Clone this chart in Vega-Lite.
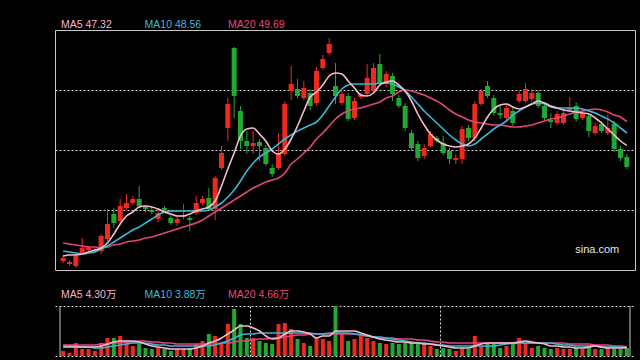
{
"$schema": "https://vega.github.io/schema/vega-lite/v6.json",
"background": "black",
"padding": {"left": 54, "top": 19, "right": 6, "bottom": 5},
"autosize": {"type": "pad"},
"spacing": 36,
"bounds": "flush",
"config": {"view": {"stroke": null}, "font": "Liberation Sans", "text": {"font": "Liberation Sans, Noto Sans CJK SC"}},
"datasets": {"k": [
{"i":0,"o":35.76,"h":36.36,"l":35.56,"c":36.06,"v":2.5,"m5":36.26,"m10":36.76,"m20":37.56,"vm5":4.5,"vm10":5,"vm20":5.5},
{"i":1,"o":35.46,"h":35.86,"l":35.26,"c":35.66,"v":1.6,"m5":36.36,"m10":36.66,"m20":37.46,"vm5":4.5,"vm10":5,"vm20":5.5},
{"i":2,"o":35.26,"h":36.46,"l":35.06,"c":36.26,"v":6.5,"m5":36.36,"m10":36.56,"m20":37.36,"vm5":4.5,"vm10":5,"vm20":5.5},
{"i":3,"o":36.56,"h":38.06,"l":36.36,"c":37.06,"v":3.5,"m5":36.46,"m10":36.46,"m20":37.26,"vm5":4.5,"vm10":4.5,"vm20":5.5},
{"i":4,"o":36.86,"h":37.26,"l":36.66,"c":37.06,"v":3.5,"m5":36.66,"m10":36.56,"m20":37.16,"vm5":4.5,"vm10":4.5,"vm20":5.5},
{"i":5,"o":36.66,"h":37.06,"l":36.56,"c":36.86,"v":2.5,"m5":36.86,"m10":36.66,"m20":37.16,"vm5":4.5,"vm10":4,"vm20":5.5},
{"i":6,"o":36.76,"h":38.46,"l":36.46,"c":38.26,"v":6.5,"m5":37.06,"m10":36.96,"m20":37.06,"vm5":5,"vm10":4,"vm20":6},
{"i":7,"o":37.96,"h":40.96,"l":37.76,"c":39.46,"v":9,"m5":37.56,"m10":37.26,"m20":37.16,"vm5":6,"vm10":4.5,"vm20":6},
{"i":8,"o":40.46,"h":41.06,"l":39.06,"c":39.56,"v":9,"m5":38.46,"m10":37.66,"m20":37.36,"vm5":7,"vm10":5,"vm20":6.5},
{"i":9,"o":39.76,"h":41.96,"l":39.56,"c":41.26,"v":10,"m5":39.46,"m10":38.06,"m20":37.46,"vm5":7.5,"vm10":5.5,"vm20":6.5},
{"i":10,"o":41.06,"h":42.46,"l":40.86,"c":41.56,"v":7.5,"m5":40.26,"m10":38.46,"m20":37.66,"vm5":7.5,"vm10":6,"vm20":7},
{"i":11,"o":41.56,"h":42.26,"l":41.36,"c":41.96,"v":5,"m5":40.66,"m10":38.86,"m20":37.76,"vm5":7.5,"vm10":6.5,"vm20":7},
{"i":12,"o":41.96,"h":43.26,"l":41.06,"c":41.26,"v":6,"m5":41.16,"m10":39.16,"m20":37.86,"vm5":7,"vm10":6.5,"vm20":7.5},
{"i":13,"o":41.16,"h":41.36,"l":40.66,"c":40.96,"v":4,"m5":41.26,"m10":39.56,"m20":38.06,"vm5":6,"vm10":6.5,"vm20":7.5},
{"i":14,"o":40.86,"h":41.16,"l":40.46,"c":40.66,"v":3.5,"m5":41.16,"m10":39.96,"m20":38.16,"vm5":5,"vm10":6,"vm20":7},
{"i":15,"o":39.96,"h":40.86,"l":39.66,"c":40.56,"v":4,"m5":40.96,"m10":40.36,"m20":38.36,"vm5":4.5,"vm10":5.5,"vm20":7},
{"i":16,"o":41.06,"h":41.26,"l":40.66,"c":40.86,"v":3.5,"m5":40.66,"m10":40.66,"m20":38.56,"vm5":4,"vm10":5.5,"vm20":6.5},
{"i":17,"o":40.06,"h":40.36,"l":39.36,"c":39.56,"v":2.5,"m5":40.46,"m10":40.76,"m20":38.76,"vm5":3.5,"vm10":5,"vm20":6.5},
{"i":18,"o":39.56,"h":40.26,"l":39.26,"c":39.96,"v":3.5,"m5":40.26,"m10":40.76,"m20":38.96,"vm5":3.5,"vm10":5,"vm20":6},
{"i":19,"o":40.16,"h":41.46,"l":39.96,"c":40.36,"v":3.5,"m5":40.26,"m10":40.76,"m20":39.16,"vm5":3.5,"vm10":5,"vm20":6},
{"i":20,"o":40.06,"h":40.26,"l":38.76,"c":39.86,"v":4,"m5":40.46,"m10":40.76,"m20":39.36,"vm5":3.5,"vm10":5,"vm20":6},
{"i":21,"o":40.56,"h":42.26,"l":40.36,"c":41.56,"v":6,"m5":40.76,"m10":40.76,"m20":39.56,"vm5":4,"vm10":5,"vm20":6},
{"i":22,"o":41.56,"h":42.26,"l":41.36,"c":41.96,"v":7.5,"m5":40.96,"m10":40.76,"m20":39.86,"vm5":5,"vm10":5,"vm20":6},
{"i":23,"o":42.06,"h":43.06,"l":40.76,"c":40.96,"v":11,"m5":41.16,"m10":40.86,"m20":40.26,"vm5":6.5,"vm10":5,"vm20":6},
{"i":24,"o":40.96,"h":44.26,"l":39.86,"c":44.06,"v":10,"m5":41.76,"m10":41.16,"m20":40.66,"vm5":7.5,"vm10":5.5,"vm20":6},
{"i":25,"o":45.06,"h":47.26,"l":44.86,"c":46.56,"v":6.5,"m5":43.26,"m10":41.56,"m20":41.06,"vm5":9,"vm10":6.5,"vm20":6.5},
{"i":26,"o":49.06,"h":52.06,"l":47.76,"c":51.46,"v":16,"m5":44.96,"m10":42.16,"m20":41.46,"vm5":11,"vm10":7.5,"vm20":6.5},
{"i":27,"o":57.06,"h":57.16,"l":50.06,"c":52.26,"v":23.5,"m5":46.56,"m10":42.86,"m20":41.86,"vm5":13,"vm10":9,"vm20":7},
{"i":28,"o":50.76,"h":51.26,"l":46.96,"c":47.76,"v":16,"m5":48.26,"m10":43.76,"m20":42.26,"vm5":15,"vm10":10.5,"vm20":7.5},
{"i":29,"o":47.76,"h":48.76,"l":46.46,"c":47.26,"v":9,"m5":48.96,"m10":44.76,"m20":42.66,"vm5":15,"vm10":11,"vm20":7.5},
{"i":30,"o":47.26,"h":48.76,"l":46.46,"c":47.56,"v":9,"m5":49.06,"m10":45.56,"m20":43.06,"vm5":14,"vm10":11,"vm20":8},
{"i":31,"o":47.66,"h":47.96,"l":45.76,"c":47.26,"v":7.5,"m5":48.46,"m10":46.16,"m20":43.36,"vm5":12.5,"vm10":11.5,"vm20":8.5},
{"i":32,"o":47.06,"h":47.36,"l":45.26,"c":45.46,"v":6.5,"m5":47.76,"m10":46.56,"m20":43.66,"vm5":10,"vm10":11.5,"vm20":8.5},
{"i":33,"o":45.06,"h":45.46,"l":44.16,"c":44.46,"v":6,"m5":46.76,"m10":46.96,"m20":43.86,"vm5":8.5,"vm10":11.5,"vm20":9},
{"i":34,"o":45.06,"h":48.56,"l":44.86,"c":46.46,"v":16,"m5":46.46,"m10":47.46,"m20":44.06,"vm5":9,"vm10":11.5,"vm20":9},
{"i":35,"o":46.46,"h":51.76,"l":46.26,"c":51.46,"v":16.5,"m5":46.96,"m10":47.96,"m20":44.56,"vm5":11,"vm10":11.5,"vm20":9.5},
{"i":36,"o":52.76,"h":55.26,"l":51.86,"c":53.46,"v":13.5,"m5":47.96,"m10":48.36,"m20":45.46,"vm5":12.5,"vm10":11.5,"vm20":10},
{"i":37,"o":52.96,"h":53.96,"l":52.06,"c":52.26,"v":8.5,"m5":49.26,"m10":48.76,"m20":45.96,"vm5":12.5,"vm10":11.5,"vm20":10.5},
{"i":38,"o":52.06,"h":53.76,"l":51.86,"c":53.06,"v":6.5,"m5":50.76,"m10":49.06,"m20":46.56,"vm5":12,"vm10":11.5,"vm20":10.5},
{"i":39,"o":52.56,"h":52.96,"l":50.86,"c":51.26,"v":5,"m5":52.16,"m10":49.36,"m20":47.16,"vm5":11,"vm10":11.5,"vm20":11},
{"i":40,"o":51.56,"h":55.16,"l":51.36,"c":54.76,"v":9,"m5":52.66,"m10":49.66,"m20":47.96,"vm5":9,"vm10":11,"vm20":11},
{"i":41,"o":55.06,"h":56.36,"l":54.86,"c":55.96,"v":8.5,"m5":53.36,"m10":50.36,"m20":48.56,"vm5":10,"vm10":11,"vm20":11},
{"i":42,"o":56.56,"h":58.06,"l":56.36,"c":57.46,"v":7.5,"m5":54.26,"m10":51.26,"m20":49.26,"vm5":10,"vm10":11.5,"vm20":11},
{"i":43,"o":53.26,"h":55.56,"l":51.46,"c":52.26,"v":25,"m5":54.56,"m10":52.16,"m20":49.96,"vm5":12.5,"vm10":11.5,"vm20":11},
{"i":44,"o":51.56,"h":52.76,"l":51.36,"c":52.46,"v":11,"m5":54.46,"m10":52.96,"m20":50.46,"vm5":12.5,"vm10":11.5,"vm20":11},
{"i":45,"o":52.26,"h":52.56,"l":49.76,"c":49.96,"v":7.5,"m5":53.76,"m10":53.36,"m20":50.76,"vm5":12.5,"vm10":11.5,"vm20":11},
{"i":46,"o":50.06,"h":52.06,"l":49.86,"c":51.76,"v":8.5,"m5":53.06,"m10":53.46,"m20":50.96,"vm5":12.5,"vm10":11,"vm20":11},
{"i":47,"o":52.16,"h":52.56,"l":51.96,"c":52.36,"v":10,"m5":52.36,"m10":53.46,"m20":51.06,"vm5":11.5,"vm10":10.5,"vm20":10.5},
{"i":48,"o":52.46,"h":55.46,"l":52.26,"c":54.06,"v":9,"m5":52.26,"m10":53.46,"m20":51.26,"vm5":10.5,"vm10":10,"vm20":10},
{"i":49,"o":52.76,"h":55.56,"l":52.56,"c":55.06,"v":7.5,"m5":52.56,"m10":53.46,"m20":51.46,"vm5":9.5,"vm10":9.5,"vm20":9.5},
{"i":50,"o":55.46,"h":56.46,"l":53.26,"c":53.56,"v":6.5,"m5":53.36,"m10":53.56,"m20":51.66,"vm5":8.5,"vm10":9.5,"vm20":9},
{"i":51,"o":53.46,"h":54.76,"l":53.16,"c":54.46,"v":6,"m5":53.66,"m10":53.56,"m20":52.06,"vm5":8,"vm10":9,"vm20":9},
{"i":52,"o":54.26,"h":54.56,"l":51.76,"c":52.46,"v":6.5,"m5":53.76,"m10":53.46,"m20":52.26,"vm5":7.5,"vm10":8.5,"vm20":9},
{"i":53,"o":52.06,"h":52.36,"l":51.06,"c":51.26,"v":6,"m5":53.36,"m10":53.16,"m20":52.66,"vm5":7,"vm10":8,"vm20":8.5},
{"i":54,"o":51.26,"h":51.56,"l":48.76,"c":49.06,"v":6.5,"m5":52.76,"m10":52.76,"m20":52.86,"vm5":7,"vm10":7.5,"vm20":8.5},
{"i":55,"o":48.56,"h":48.86,"l":46.86,"c":47.06,"v":6.5,"m5":51.76,"m10":52.16,"m20":52.76,"vm5":6.5,"vm10":7,"vm20":8.5},
{"i":56,"o":47.46,"h":47.76,"l":45.76,"c":46.06,"v":6,"m5":50.46,"m10":51.46,"m20":52.56,"vm5":6.5,"vm10":6.5,"vm20":8},
{"i":57,"o":46.26,"h":47.46,"l":45.96,"c":47.06,"v":6,"m5":49.36,"m10":50.76,"m20":52.36,"vm5":6,"vm10":6.5,"vm20":8},
{"i":58,"o":47.26,"h":48.76,"l":47.06,"c":48.46,"v":5,"m5":48.46,"m10":50.16,"m20":52.06,"vm5":6,"vm10":6,"vm20":7.5},
{"i":59,"o":48.06,"h":48.26,"l":47.56,"c":47.76,"v":3.5,"m5":47.86,"m10":49.56,"m20":51.76,"vm5":5.5,"vm10":5.5,"vm20":7},
{"i":60,"o":47.56,"h":48.26,"l":46.36,"c":46.56,"v":4,"m5":47.46,"m10":48.96,"m20":51.36,"vm5":5,"vm10":5.5,"vm20":7},
{"i":61,"o":46.76,"h":47.06,"l":45.46,"c":45.96,"v":3.5,"m5":47.26,"m10":48.36,"m20":50.86,"vm5":4.5,"vm10":5,"vm20":6.5},
{"i":62,"o":45.86,"h":46.46,"l":45.46,"c":46.06,"v":2.5,"m5":47.16,"m10":47.86,"m20":50.46,"vm5":4,"vm10":5,"vm20":6.5},
{"i":63,"o":45.96,"h":49.26,"l":45.46,"c":48.96,"v":4,"m5":47.26,"m10":47.46,"m20":50.16,"vm5":4,"vm10":5,"vm20":6.5},
{"i":64,"o":49.06,"h":49.36,"l":47.76,"c":48.06,"v":3.5,"m5":47.46,"m10":47.26,"m20":49.86,"vm5":4,"vm10":5,"vm20":6.5},
{"i":65,"o":48.06,"h":51.76,"l":47.76,"c":51.46,"v":10,"m5":48.06,"m10":47.46,"m20":49.66,"vm5":5,"vm10":5,"vm20":6.5},
{"i":66,"o":51.46,"h":52.96,"l":51.26,"c":52.76,"v":5,"m5":49.06,"m10":47.96,"m20":49.56,"vm5":6,"vm10":5,"vm20":6.5},
{"i":67,"o":53.26,"h":53.76,"l":52.06,"c":52.26,"v":6,"m5":50.16,"m10":48.46,"m20":49.46,"vm5":6.5,"vm10":5,"vm20":6.5},
{"i":68,"o":52.06,"h":52.36,"l":50.26,"c":50.56,"v":6,"m5":50.96,"m10":48.96,"m20":49.36,"vm5":6.5,"vm10":5,"vm20":6.5},
{"i":69,"o":50.56,"h":51.36,"l":49.96,"c":50.36,"v":4,"m5":51.36,"m10":49.36,"m20":49.36,"vm5":6.5,"vm10":5.5,"vm20":6.5},
{"i":70,"o":50.06,"h":51.36,"l":49.86,"c":51.06,"v":5,"m5":51.46,"m10":49.76,"m20":49.26,"vm5":6.5,"vm10":6,"vm20":6.5},
{"i":71,"o":50.76,"h":51.06,"l":49.26,"c":49.56,"v":6,"m5":51.16,"m10":50.36,"m20":49.16,"vm5":6.5,"vm10":6.5,"vm20":6.5},
{"i":72,"o":51.76,"h":52.76,"l":51.56,"c":52.46,"v":9,"m5":50.96,"m10":50.76,"m20":49.16,"vm5":7,"vm10":6.5,"vm20":6.5},
{"i":73,"o":51.76,"h":53.56,"l":51.56,"c":52.96,"v":6.5,"m5":51.16,"m10":51.16,"m20":49.26,"vm5":7.5,"vm10":6.5,"vm20":6.5},
{"i":74,"o":51.96,"h":52.96,"l":51.66,"c":52.56,"v":4,"m5":51.46,"m10":51.46,"m20":49.36,"vm5":7,"vm10":6.5,"vm20":6.5},
{"i":75,"o":52.56,"h":52.86,"l":51.06,"c":51.26,"v":5,"m5":51.76,"m10":51.56,"m20":49.56,"vm5":6.5,"vm10":6.5,"vm20":6.5},
{"i":76,"o":51.26,"h":51.56,"l":49.86,"c":50.06,"v":4,"m5":51.56,"m10":51.46,"m20":49.76,"vm5":6,"vm10":6.5,"vm20":6.5},
{"i":77,"o":49.86,"h":50.56,"l":49.06,"c":49.66,"v":3.5,"m5":51.26,"m10":51.16,"m20":49.96,"vm5":5,"vm10":6.5,"vm20":6.5},
{"i":78,"o":49.56,"h":50.76,"l":49.36,"c":50.46,"v":4,"m5":51.06,"m10":51.06,"m20":50.06,"vm5":5,"vm10":6,"vm20":6.5},
{"i":79,"o":49.56,"h":50.86,"l":49.36,"c":50.56,"v":3.5,"m5":50.86,"m10":51.06,"m20":50.26,"vm5":4.5,"vm10":5.5,"vm20":6.5},
{"i":80,"o":50.86,"h":52.16,"l":50.66,"c":51.06,"v":3.5,"m5":50.76,"m10":51.06,"m20":50.46,"vm5":4.5,"vm10":5.5,"vm20":6},
{"i":81,"o":51.26,"h":51.66,"l":49.66,"c":49.96,"v":4,"m5":50.66,"m10":51.06,"m20":50.66,"vm5":4,"vm10":5,"vm20":6},
{"i":82,"o":50.06,"h":50.86,"l":49.86,"c":50.56,"v":3.5,"m5":50.56,"m10":50.96,"m20":50.76,"vm5":4,"vm10":5,"vm20":6},
{"i":83,"o":50.26,"h":50.56,"l":48.16,"c":48.76,"v":5,"m5":50.46,"m10":50.76,"m20":50.86,"vm5":4.5,"vm10":5,"vm20":6},
{"i":84,"o":48.56,"h":49.56,"l":48.36,"c":49.26,"v":3.5,"m5":50.06,"m10":50.56,"m20":50.96,"vm5":5,"vm10":5,"vm20":5.5},
{"i":85,"o":49.46,"h":49.76,"l":48.56,"c":48.76,"v":3.5,"m5":49.56,"m10":50.26,"m20":50.86,"vm5":4.5,"vm10":4.5,"vm20":5.5},
{"i":86,"o":48.56,"h":50.46,"l":48.36,"c":49.06,"v":4,"m5":48.96,"m10":49.96,"m20":50.66,"vm5":4,"vm10":4.5,"vm20":5.5},
{"i":87,"o":49.46,"h":49.76,"l":46.66,"c":46.96,"v":3.5,"m5":48.36,"m10":49.56,"m20":50.36,"vm5":4,"vm10":4.5,"vm20":5},
{"i":88,"o":46.96,"h":47.26,"l":45.76,"c":46.06,"v":3.5,"m5":47.76,"m10":49.06,"m20":50.16,"vm5":4,"vm10":4.5,"vm20":5},
{"i":89,"o":46.16,"h":46.46,"l":44.96,"c":45.16,"v":4,"m5":47.32,"m10":48.56,"m20":49.69,"vm5":4.3,"vm10":3.88,"vm20":4.66}
]},
"vconcat": [
{
"width": 580, "height": 240,
"view": {"stroke": "#c8c8c8", "strokeWidth": 1},
"layer": [
{"data": {"name": "k"}, "mark": {"type": "rule", "strokeWidth": 1},
 "encoding": {"x": {"field": "i", "type": "quantitative", "scale": {"domain": [-0.5, 89.5], "nice": false, "zero": false}, "axis": null},
  "y": {"field": "l", "type": "quantitative", "scale": {"domain": [34.86, 58.86], "nice": false, "zero": false}, "axis": {"grid": true, "values": [40.86, 46.86, 52.86], "gridColor": "#d8d8d8", "gridDash": [2, 2], "labels": false, "ticks": false, "domain": false, "title": null}},
  "y2": {"field": "h"},
  "color": {"condition": {"test": "datum.c >= datum.o", "value": "#ee2a1e"}, "value": "#22a832"}}},
{"data": {"name": "k"}, "mark": {"type": "bar", "size": 5},
 "encoding": {"x": {"field": "i", "type": "quantitative", "scale": {"domain": [-0.5, 89.5], "nice": false, "zero": false}, "axis": null},
  "y": {"field": "o", "type": "quantitative", "scale": {"domain": [34.86, 58.86], "nice": false, "zero": false}, "axis": {"grid": true, "values": [40.86, 46.86, 52.86], "gridColor": "#d8d8d8", "gridDash": [2, 2], "labels": false, "ticks": false, "domain": false, "title": null}},
  "y2": {"field": "c"},
  "color": {"condition": {"test": "datum.c >= datum.o", "value": "#ee2a1e"}, "value": "#22a832"}}},
{"data": {"name": "k"}, "mark": {"type": "line", "strokeWidth": 1.6, "color": "#e0457b", "interpolate": "monotone"},
 "encoding": {"x": {"field": "i", "type": "quantitative", "scale": {"domain": [-0.5, 89.5], "nice": false, "zero": false}, "axis": null},
  "y": {"field": "m20", "type": "quantitative", "scale": {"domain": [34.86, 58.86], "nice": false, "zero": false}, "axis": {"grid": true, "values": [40.86, 46.86, 52.86], "gridColor": "#d8d8d8", "gridDash": [2, 2], "labels": false, "ticks": false, "domain": false, "title": null}}}},
{"data": {"name": "k"}, "mark": {"type": "line", "strokeWidth": 1.6, "color": "#3bb4d6", "interpolate": "monotone"},
 "encoding": {"x": {"field": "i", "type": "quantitative", "scale": {"domain": [-0.5, 89.5], "nice": false, "zero": false}, "axis": null},
  "y": {"field": "m10", "type": "quantitative", "scale": {"domain": [34.86, 58.86], "nice": false, "zero": false}, "axis": {"grid": true, "values": [40.86, 46.86, 52.86], "gridColor": "#d8d8d8", "gridDash": [2, 2], "labels": false, "ticks": false, "domain": false, "title": null}}}},
{"data": {"name": "k"}, "mark": {"type": "line", "strokeWidth": 1.6, "color": "#f6bccd", "interpolate": "monotone"},
 "encoding": {"x": {"field": "i", "type": "quantitative", "scale": {"domain": [-0.5, 89.5], "nice": false, "zero": false}, "axis": null},
  "y": {"field": "m5", "type": "quantitative", "scale": {"domain": [34.86, 58.86], "nice": false, "zero": false}, "axis": {"grid": true, "values": [40.86, 46.86, 52.86], "gridColor": "#d8d8d8", "gridDash": [2, 2], "labels": false, "ticks": false, "domain": false, "title": null}}}},
{"data": {"values": [{"t": "sina.com"}]}, "mark": {"type": "text", "align": "right", "baseline": "middle", "fontSize": 11, "color": "#e6e6e6"},
 "encoding": {"x": {"datum": 87.8, "type": "quantitative", "scale": {"domain": [-0.5, 89.5], "nice": false, "zero": false}, "axis": null},
  "y": {"datum": 36.86, "type": "quantitative", "scale": {"domain": [34.86, 58.86], "nice": false, "zero": false}, "axis": {"grid": true, "values": [40.86, 46.86, 52.86], "gridColor": "#d8d8d8", "gridDash": [2, 2], "labels": false, "ticks": false, "domain": false, "title": null}},
  "text": {"field": "t"}}},
{"data": {"values": [{"t": "MA5 47.32"}]}, "mark": {"type": "text", "align": "left", "baseline": "middle", "fontSize": 10.5, "color": "#f7b3c8"},
 "encoding": {"x": {"datum": -0.35, "type": "quantitative", "scale": {"domain": [-0.5, 89.5], "nice": false, "zero": false}, "axis": null},
  "y": {"datum": 59.36, "type": "quantitative", "scale": {"domain": [34.86, 58.86], "nice": false, "zero": false}, "axis": {"grid": true, "values": [40.86, 46.86, 52.86], "gridColor": "#d8d8d8", "gridDash": [2, 2], "labels": false, "ticks": false, "domain": false, "title": null}},
  "text": {"field": "t"}}},
{"data": {"values": [{"t": "MA10 48.56"}]}, "mark": {"type": "text", "align": "left", "baseline": "middle", "fontSize": 10.5, "color": "#40b8dc"},
 "encoding": {"x": {"datum": 12.85, "type": "quantitative", "scale": {"domain": [-0.5, 89.5], "nice": false, "zero": false}, "axis": null},
  "y": {"datum": 59.36, "type": "quantitative", "scale": {"domain": [34.86, 58.86], "nice": false, "zero": false}, "axis": {"grid": true, "values": [40.86, 46.86, 52.86], "gridColor": "#d8d8d8", "gridDash": [2, 2], "labels": false, "ticks": false, "domain": false, "title": null}},
  "text": {"field": "t"}}},
{"data": {"values": [{"t": "MA20 49.69"}]}, "mark": {"type": "text", "align": "left", "baseline": "middle", "fontSize": 10.5, "color": "#e8467c"},
 "encoding": {"x": {"datum": 26.04, "type": "quantitative", "scale": {"domain": [-0.5, 89.5], "nice": false, "zero": false}, "axis": null},
  "y": {"datum": 59.36, "type": "quantitative", "scale": {"domain": [34.86, 58.86], "nice": false, "zero": false}, "axis": {"grid": true, "values": [40.86, 46.86, 52.86], "gridColor": "#d8d8d8", "gridDash": [2, 2], "labels": false, "ticks": false, "domain": false, "title": null}},
  "text": {"field": "t"}}}
]
},
{
"width": 580, "height": 50,
"view": {"stroke": null},
"layer": [
{"data": {"name": "k"}, "mark": {"type": "bar", "size": 4},
 "encoding": {"x": {"field": "i", "type": "quantitative", "scale": {"domain": [-0.5, 89.5], "nice": false, "zero": false}, "axis": {"grid": true, "values": [29.5, 59.5], "gridColor": "#d8d8d8", "gridDash": [2, 2], "labels": false, "ticks": false, "domain": false, "title": null}},
  "y": {"field": "v", "type": "quantitative", "scale": {"domain": [0, 25], "nice": false}, "axis": {"grid": true, "values": [0, 25], "gridColor": "#d8d8d8", "gridDash": [2, 2], "labels": false, "ticks": false, "domain": false, "title": null}},
  "color": {"condition": {"test": "datum.c >= datum.o", "value": "#ee2a1e"}, "value": "#22a832"}}},
{"data": {"name": "k"}, "mark": {"type": "line", "strokeWidth": 1.6, "color": "#e0457b", "interpolate": "monotone"},
 "encoding": {"x": {"field": "i", "type": "quantitative", "scale": {"domain": [-0.5, 89.5], "nice": false, "zero": false}, "axis": {"grid": true, "values": [29.5, 59.5], "gridColor": "#d8d8d8", "gridDash": [2, 2], "labels": false, "ticks": false, "domain": false, "title": null}},
  "y": {"field": "vm20", "type": "quantitative", "scale": {"domain": [0, 25], "nice": false}, "axis": {"grid": true, "values": [0, 25], "gridColor": "#d8d8d8", "gridDash": [2, 2], "labels": false, "ticks": false, "domain": false, "title": null}}}},
{"data": {"name": "k"}, "mark": {"type": "line", "strokeWidth": 1.6, "color": "#3bb4d6", "interpolate": "monotone"},
 "encoding": {"x": {"field": "i", "type": "quantitative", "scale": {"domain": [-0.5, 89.5], "nice": false, "zero": false}, "axis": {"grid": true, "values": [29.5, 59.5], "gridColor": "#d8d8d8", "gridDash": [2, 2], "labels": false, "ticks": false, "domain": false, "title": null}},
  "y": {"field": "vm10", "type": "quantitative", "scale": {"domain": [0, 25], "nice": false}, "axis": {"grid": true, "values": [0, 25], "gridColor": "#d8d8d8", "gridDash": [2, 2], "labels": false, "ticks": false, "domain": false, "title": null}}}},
{"data": {"name": "k"}, "mark": {"type": "line", "strokeWidth": 1.6, "color": "#f6bccd", "interpolate": "monotone"},
 "encoding": {"x": {"field": "i", "type": "quantitative", "scale": {"domain": [-0.5, 89.5], "nice": false, "zero": false}, "axis": {"grid": true, "values": [29.5, 59.5], "gridColor": "#d8d8d8", "gridDash": [2, 2], "labels": false, "ticks": false, "domain": false, "title": null}},
  "y": {"field": "vm5", "type": "quantitative", "scale": {"domain": [0, 25], "nice": false}, "axis": {"grid": true, "values": [0, 25], "gridColor": "#d8d8d8", "gridDash": [2, 2], "labels": false, "ticks": false, "domain": false, "title": null}}}},
{"data": {"values": [{"b": "left"}]}, "mark": {"type": "rule", "color": "#c8c8c8", "strokeWidth": 1},
 "encoding": {"x": {"datum": -0.5, "type": "quantitative", "scale": {"domain": [-0.5, 89.5], "nice": false, "zero": false}, "axis": {"grid": true, "values": [29.5, 59.5], "gridColor": "#d8d8d8", "gridDash": [2, 2], "labels": false, "ticks": false, "domain": false, "title": null}}}},
{"data": {"values": [{"b": "right"}]}, "mark": {"type": "rule", "color": "#c8c8c8", "strokeWidth": 1},
 "encoding": {"x": {"datum": 89.5, "type": "quantitative", "scale": {"domain": [-0.5, 89.5], "nice": false, "zero": false}, "axis": {"grid": true, "values": [29.5, 59.5], "gridColor": "#d8d8d8", "gridDash": [2, 2], "labels": false, "ticks": false, "domain": false, "title": null}}}},
{"data": {"values": [{"t": "MA5 4.30万"}]}, "mark": {"type": "text", "align": "left", "baseline": "middle", "fontSize": 10.5, "color": "#f7b3c8"},
 "encoding": {"x": {"datum": -0.35, "type": "quantitative", "scale": {"domain": [-0.5, 89.5], "nice": false, "zero": false}, "axis": {"grid": true, "values": [29.5, 59.5], "gridColor": "#d8d8d8", "gridDash": [2, 2], "labels": false, "ticks": false, "domain": false, "title": null}},
  "y": {"datum": 30.5, "type": "quantitative", "scale": {"domain": [0, 25], "nice": false}, "axis": {"grid": true, "values": [0, 25], "gridColor": "#d8d8d8", "gridDash": [2, 2], "labels": false, "ticks": false, "domain": false, "title": null}},
  "text": {"field": "t"}}},
{"data": {"values": [{"t": "MA10 3.88万"}]}, "mark": {"type": "text", "align": "left", "baseline": "middle", "fontSize": 10.5, "color": "#40b8dc"},
 "encoding": {"x": {"datum": 12.85, "type": "quantitative", "scale": {"domain": [-0.5, 89.5], "nice": false, "zero": false}, "axis": {"grid": true, "values": [29.5, 59.5], "gridColor": "#d8d8d8", "gridDash": [2, 2], "labels": false, "ticks": false, "domain": false, "title": null}},
  "y": {"datum": 30.5, "type": "quantitative", "scale": {"domain": [0, 25], "nice": false}, "axis": {"grid": true, "values": [0, 25], "gridColor": "#d8d8d8", "gridDash": [2, 2], "labels": false, "ticks": false, "domain": false, "title": null}},
  "text": {"field": "t"}}},
{"data": {"values": [{"t": "MA20 4.66万"}]}, "mark": {"type": "text", "align": "left", "baseline": "middle", "fontSize": 10.5, "color": "#e8467c"},
 "encoding": {"x": {"datum": 26.04, "type": "quantitative", "scale": {"domain": [-0.5, 89.5], "nice": false, "zero": false}, "axis": {"grid": true, "values": [29.5, 59.5], "gridColor": "#d8d8d8", "gridDash": [2, 2], "labels": false, "ticks": false, "domain": false, "title": null}},
  "y": {"datum": 30.5, "type": "quantitative", "scale": {"domain": [0, 25], "nice": false}, "axis": {"grid": true, "values": [0, 25], "gridColor": "#d8d8d8", "gridDash": [2, 2], "labels": false, "ticks": false, "domain": false, "title": null}},
  "text": {"field": "t"}}}
]
}
]
}
